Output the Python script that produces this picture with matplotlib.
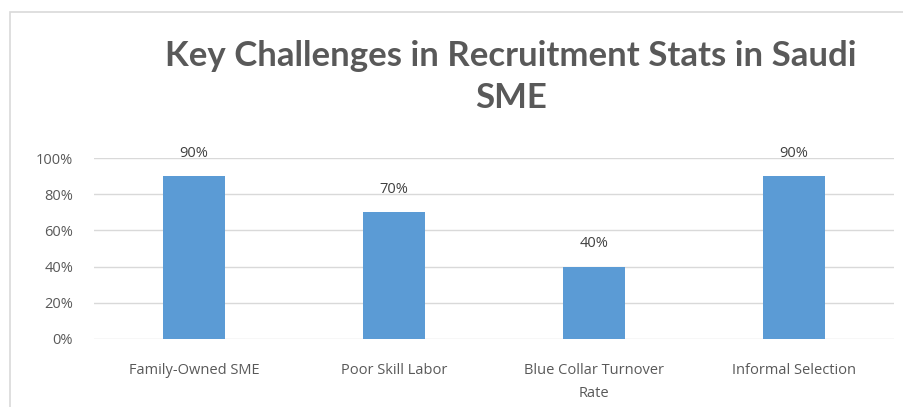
import matplotlib
matplotlib.use("Agg")
import matplotlib.pyplot as plt
from matplotlib.patches import Rectangle
from matplotlib.ticker import PercentFormatter

categories = ["Family-Owned SME", "Poor Skill Labor", "Blue Collar Turnover\nRate", "Informal Selection"]
values = [90, 70, 40, 90]
yticks = [0, 20, 40, 60, 80, 100]
title = "Key Challenges in Recruitment Stats in Saudi\nSME"

plt.rcParams['font.family'] = ['Open Sans', 'DejaVu Sans']

fig = plt.figure(figsize=(9.04, 4.07), dpi=100)
fig.patch.set_facecolor('white')
# chart border
fig.patches.append(Rectangle((10/904, -0.05), 1.0, (407-12)/407 + 0.05, transform=fig.transFigure,
                             fill=False, edgecolor='#d9d9d9', linewidth=1.2))

ax = fig.add_axes([94/904, (407-339)/407, 800/904, 181/407])
x = range(len(categories))
bars = ax.bar(x, values, width=0.31, color='#5b9bd5', zorder=3)
ax.set_xlim(-0.5, len(categories) - 0.5)
ax.set_ylim(0, 100)
ax.set_yticks(yticks)
ax.yaxis.set_major_formatter(PercentFormatter(decimals=0))
ax.grid(axis='y', color='#d9d9d9', linewidth=1, zorder=0)
for s in ['top', 'right', 'left', 'bottom']:
    ax.spines[s].set_visible(False)
ax.tick_params(axis='both', length=0, colors='#595959', labelsize=10.5)
ax.tick_params(axis='y', pad=15)
ax.tick_params(axis='x', pad=17)
ax.set_xticks(list(x))
ax.set_xticklabels(categories, color='#595959', linespacing=1.8)
for b, v in zip(bars, values):
    ax.annotate(f"{v}%", (b.get_x() + b.get_width()/2, v), xytext=(0, 11),
                textcoords='offset points', ha='center', va='bottom',
                fontsize=10.5, color='#404040')

fig.text(511/904, 1 - 77/407, title, ha='center', va='center', fontsize=25,
         fontweight='bold', color='#595959', linespacing=1.4,
         family=['Lato', 'DejaVu Sans'])

fig.savefig('out.png', dpi=100, facecolor='white')
